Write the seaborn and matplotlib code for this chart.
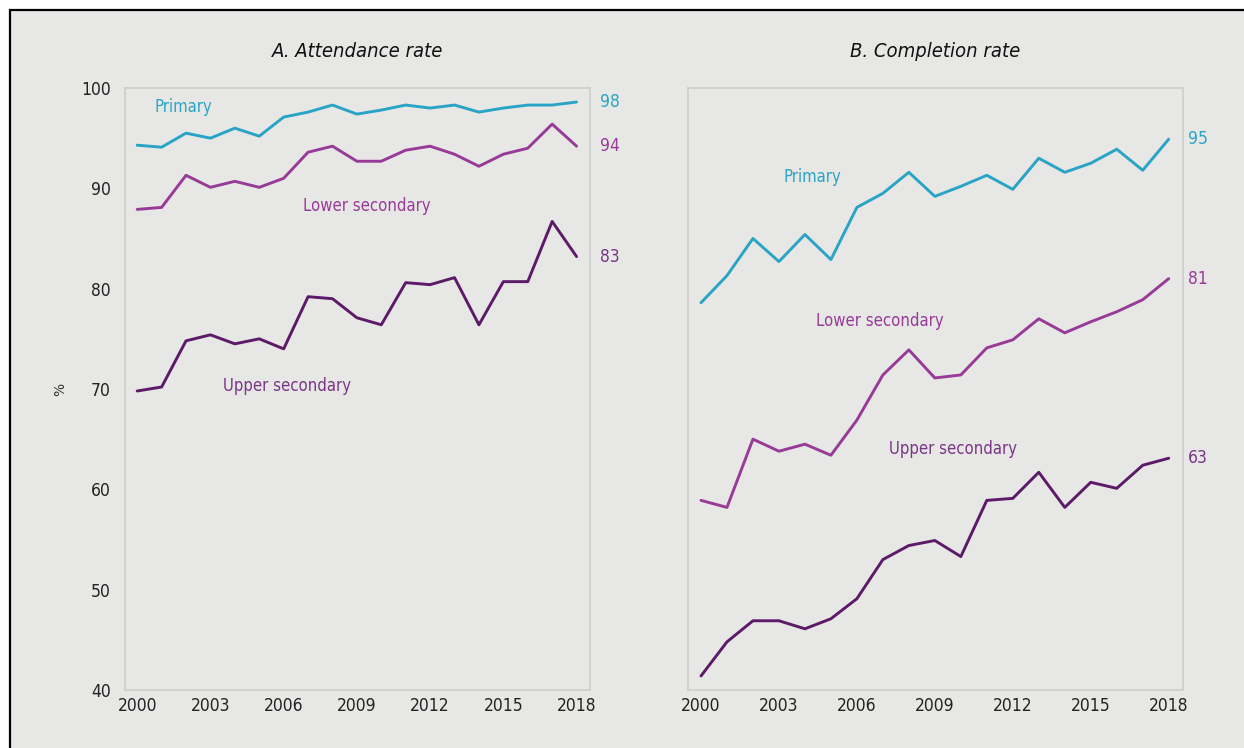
import matplotlib
matplotlib.use("Agg")
import matplotlib.pyplot as plt
from matplotlib.patches import Rectangle
import seaborn as sns
import pandas as pd

years = list(range(2000, 2019))
levels = ["Primary", "Lower secondary", "Upper secondary"]

att_primary = [94.3, 94.1, 95.5, 95.0, 96.0, 95.2, 97.1, 97.6, 98.3, 97.4,
               97.8, 98.3, 98.0, 98.3, 97.6, 98.0, 98.3, 98.3, 98.6]
att_lower = [87.9, 88.1, 91.3, 90.1, 90.7, 90.1, 91.0, 93.6, 94.2, 92.7,
             92.7, 93.8, 94.2, 93.4, 92.2, 93.4, 94.0, 96.4, 94.2]
att_upper = [69.8, 70.2, 74.8, 75.4, 74.5, 75.0, 74.0, 79.2, 79.0, 77.1,
             76.4, 80.6, 80.4, 81.1, 76.4, 80.7, 80.7, 86.7, 83.2]

comp_primary = [78.6, 81.3, 85.0, 82.7, 85.4, 82.9, 88.1, 89.5, 91.6, 89.2,
                90.2, 91.3, 89.9, 93.0, 91.6, 92.5, 93.9, 91.8, 94.9]
comp_lower = [58.9, 58.2, 65.0, 63.8, 64.5, 63.4, 66.9, 71.4, 73.9, 71.1,
              71.4, 74.1, 74.9, 77.0, 75.6, 76.7, 77.7, 78.9, 81.0]
comp_upper = [41.4, 44.8, 46.9, 46.9, 46.1, 47.1, 49.1, 53.0, 54.4, 54.9,
              53.3, 58.9, 59.1, 61.7, 58.2, 60.7, 60.1, 62.4, 63.1]

att_end_labels = ["98", "94", "83"]
comp_end_labels = ["95", "81", "63"]
titles = ["A. Attendance rate", "B. Completion rate"]
xticks = [2000, 2003, 2006, 2009, 2012, 2015, 2018]
yticks = [40, 50, 60, 70, 80, 90, 100]

colors = {"Primary": "#2aa4c6", "Lower secondary": "#983a98", "Upper secondary": "#5c1a68"}
label_colors = {"Primary": "#2aa4c6", "Lower secondary": "#983a98", "Upper secondary": "#7a3586"}

def long_df(p, l, u):
    rows = []
    for name, vals in zip(levels, [p, l, u]):
        for y, v in zip(years, vals):
            rows.append({"year": y, "value": v, "level": name})
    return pd.DataFrame(rows)

df_att = long_df(att_primary, att_lower, att_upper)
df_comp = long_df(comp_primary, comp_lower, comp_upper)

bg = "#e7e8e5"
sns.set_theme(style="white")
plt.rcParams["font.family"] = ["DejaVu Sans"]

W, H = 1244, 748
fig = plt.figure(figsize=(W / 100, H / 100), dpi=100, facecolor="white")
fig.patches.append(Rectangle((10 / W, -0.05), 1.1, 1 - 10 / H + 0.05,
                             transform=fig.transFigure, facecolor=bg,
                             edgecolor="black", linewidth=1.6, zorder=-10))

axA = fig.add_axes([125 / W, 1 - 690 / H, 465 / W, 602 / H])
axB = fig.add_axes([688 / W, 1 - 690 / H, 495 / W, 602 / H])

spine_col = "#cfd0cd"
fs_kw = dict(fontstretch="condensed")

for ax, df, title, ends in [(axA, df_att, titles[0], att_end_labels),
                            (axB, df_comp, titles[1], comp_end_labels)]:
    ax.set_facecolor(bg)
    sns.lineplot(data=df, x="year", y="value", hue="level", palette=colors,
                 linewidth=2.1, ax=ax, legend=False)
    ax.set_xlim(1999.5, 2018.55)
    ax.set_ylim(40, 100)
    ax.set_xticks(xticks)
    ax.set_xticklabels([str(t) for t in xticks], fontsize=12.5, color="#222222", **fs_kw)
    ax.set_xlabel("")
    ax.set_ylabel("")
    for s in ax.spines.values():
        s.set_color(spine_col)
        s.set_linewidth(1.3)
    ax.tick_params(axis="x", length=0, pad=5)
    ax.set_title(title, fontsize=14.5, style="italic", color="#111111", pad=22, **fs_kw)
    ends_vals = [df[df.level == n].value.iloc[-1] for n in levels]
    for n, lab, v in zip(levels, ends, ends_vals):
        ax.text(2018.95 if ax is axA else 2018.75, v, lab,
                color=label_colors[n], fontsize=12.5, va="center", ha="left",
                clip_on=False, **fs_kw)

axA.set_yticks(yticks)
axA.set_yticklabels([str(t) for t in yticks], fontsize=12.5, color="#222222", **fs_kw)
axA.tick_params(axis="y", length=6, color=spine_col, width=1.2, pad=4)
axA.set_ylabel("%", fontsize=10, color="#333333", labelpad=10)
axB.set_yticks([])

# line labels
axA.text(2001.9, 98.1, "Primary", color=label_colors["Primary"], fontsize=12, ha="center", va="center", **fs_kw)
axA.text(2009.4, 88.2, "Lower secondary", color=label_colors["Lower secondary"], fontsize=12, ha="center", va="center", **fs_kw)
axA.text(2006.15, 70.3, "Upper secondary", color=label_colors["Upper secondary"], fontsize=12, ha="center", va="center", **fs_kw)
axB.text(2004.3, 91.1, "Primary", color=label_colors["Primary"], fontsize=12, ha="center", va="center", **fs_kw)
axB.text(2006.9, 76.8, "Lower secondary", color=label_colors["Lower secondary"], fontsize=12, ha="center", va="center", **fs_kw)
axB.text(2009.7, 64.0, "Upper secondary", color=label_colors["Upper secondary"], fontsize=12, ha="center", va="center", **fs_kw)

fig.savefig("out.png", dpi=100, facecolor="white")
